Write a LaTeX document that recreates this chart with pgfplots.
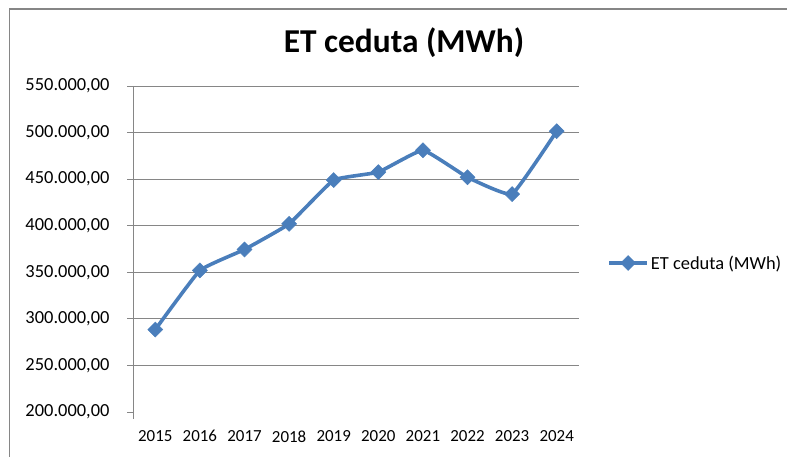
\documentclass[border=0pt]{standalone}
\usepackage{pgfplots}
\pgfplotsset{compat=1.18}
\usepackage{fontspec}
\setmainfont{Carlito}
\definecolor{serie}{RGB}{74,126,187}
\definecolor{griglia}{RGB}{134,134,134}
\begin{document}
\begin{tikzpicture}[x=1bp,y=1bp]
\useasboundingbox (0,0) rectangle (787,457);
\draw[griglia, line width=1.6bp] (9.5,0) -- (9.5,448) -- (787,448);
\node[anchor=base] at (404,404) {\bfseries\fontsize{33.5}{36}\selectfont ET ceduta (MWh)};
\begin{axis}[
  at={(133bp,45bp)}, anchor=south west,
  scale only axis, width=446bp, height=326bp,
  xmin=-0.5, xmax=9.5, ymin=200000, ymax=550000,
  axis lines*=left,
  axis line style={draw=none},
  clip=false,
  /pgf/number format/assume math mode=true,
  xtick={0,1,2,3,4,5,6,7,8,9},
  xticklabels={2015,2016,2017,2018,2019,2020,2021,2022,2023,2024},
  xtick style={draw=none},
  extra x ticks={1.5,2.5,3.5,4.5,5.5,6.5,7.5,9.5},
  extra x tick labels={},
  extra x tick style={tick style={griglia, line width=0.9bp, draw=griglia}, major tick length=7bp, tick align=outside},
  ytick={200000,250000,300000,350000,400000,450000,500000,550000},
  scaled y ticks=false,
  yticklabel style={xshift=-14bp, /pgf/number format/fixed, /pgf/number format/fixed zerofill, /pgf/number format/precision=2, /pgf/number format/use comma, /pgf/number format/1000 sep={.}},
  ytick style={griglia, line width=0.9bp},
  major tick length=6bp, tick align=outside,
  extra y ticks={250000,300000,350000,400000,450000,500000,550000},
  extra y tick labels={},
  extra y tick style={ymajorgrids=true, major tick length=0pt},
  grid style={griglia, line width=0.9bp},
  ticklabel style={font=\fontsize{18.5}{20}\selectfont},
  xticklabel style={font=\fontsize{17}{18}\selectfont, yshift=-9bp},
  legend style={at={(1.063,0.457)}, anchor=west, draw=none, fill=none, inner sep=0pt,
    font=\fontsize{18.5}{20}\selectfont},
  legend cell align=left,
  legend image code/.code={\draw[mark repeat=2,mark phase=2] plot coordinates {(0bp,0bp) (19bp,0bp) (38bp,0bp)};},
]
\draw[griglia, line width=0.9bp] (rel axis cs:0,1) -- ([yshift=-7bp]rel axis cs:0,0);
\addplot[serie, line width=3.6bp, smooth, tension=0.2, mark=square*, mark size=5.3bp,
  mark options={fill=serie, draw=serie, line width=0.5bp, rotate=45}]
  coordinates {(0,288500) (1,352000) (2,374500) (3,402000) (4,449000) (5,457500) (6,481000) (7,452000) (8,434000) (9,501500)};
\addlegendentry{ET ceduta (MWh)}
\end{axis}
\end{tikzpicture}
\end{document}
